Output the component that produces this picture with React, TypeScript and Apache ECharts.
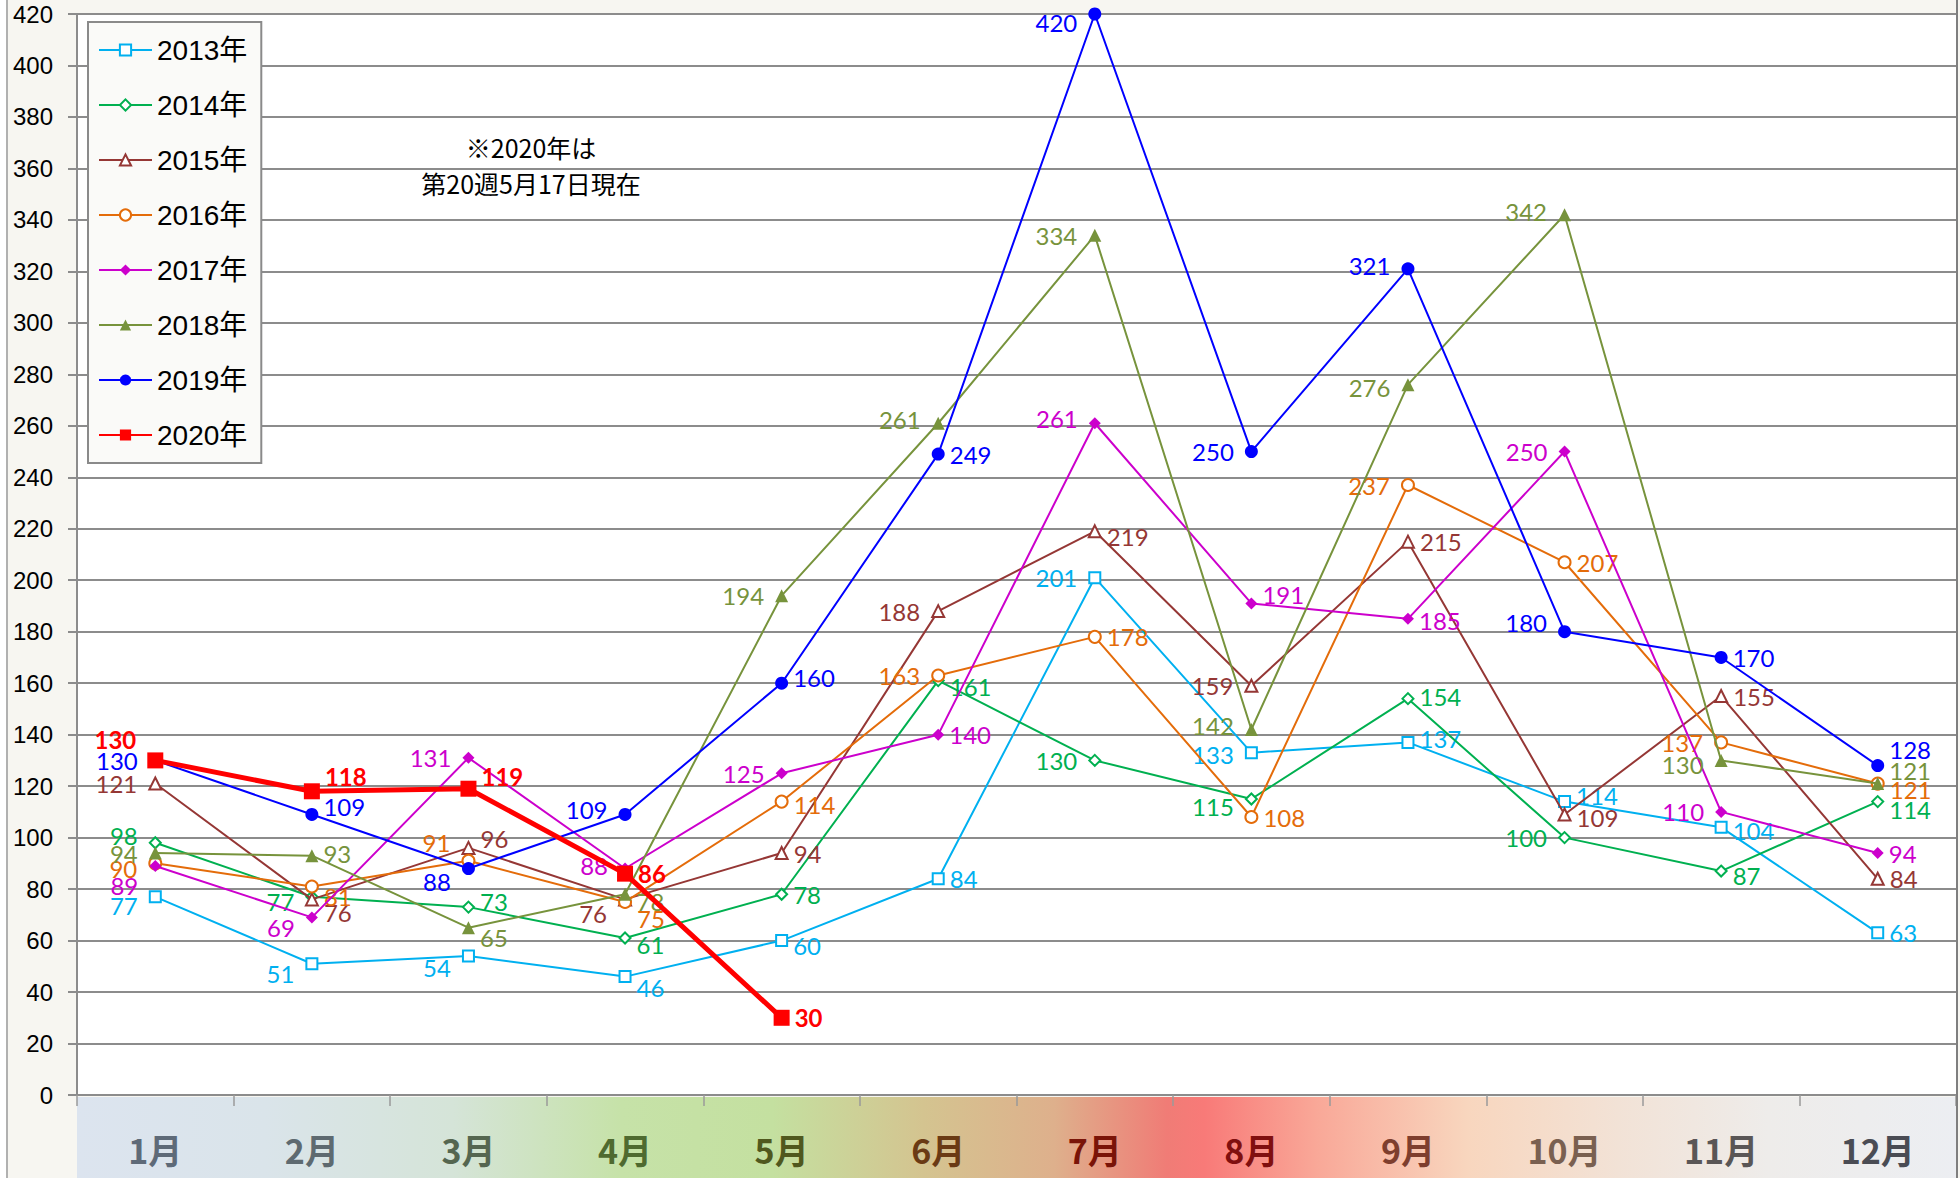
import React, { useEffect, useRef } from "react";
import * as echarts from "echarts";

const months = ["1月", "2月", "3月", "4月", "5月", "6月", "7月", "8月", "9月", "10月", "11月", "12月"];
const yearNames = ["2013年", "2014年", "2015年", "2016年", "2017年", "2018年", "2019年", "2020年"];

const v2013 = [77, 51, 54, 46, 60, 84, 201, 133, 137, 114, 104, 63];
const v2014 = [98, 77, 73, 61, 78, 161, 130, 115, 154, 100, 87, 114];
const v2015 = [121, 76, 96, 76, 94, 188, 219, 159, 215, 109, 155, 84];
const v2016 = [90, 81, 91, 75, 114, 163, 178, 108, 237, 207, 137, 121];
const v2017 = [89, 69, 131, 88, 125, 140, 261, 191, 185, 250, 110, 94];
const v2018 = [94, 93, 65, 78, 194, 261, 334, 142, 276, 342, 130, 121];
const v2019 = [130, 109, 88, 109, 160, 249, 420, 250, 321, 180, 170, 128];
const v2020 = [130, 118, 119, 86, 30];

const yMin = 0;
const yMax = 420;
const yStep = 20;

const noteText = "※2020年は\n第20週5月17日現在";

// --- styling / layout (not data) ---
const seriesValues = [v2013, v2014, v2015, v2016, v2017, v2018, v2019, v2020];
const seriesColors = ["#00B0F0", "#00B050", "#953735", "#E46C0A", "#CC00CC", "#77933C", "#0000FF", "#FF0000"];
const seriesSymbols = ["emptyRect", "emptyDiamond", "emptyTriangle", "emptyCircle", "diamond", "triangle", "circle", "rect"];
const seriesSymbolSizes = [11, 11, 12, 12, 12, 13, 13, 16];
const seriesLineWidths = [2, 2, 2, 2, 2, 2, 2, 5];

const labelSide = [
  "LLLRRRLLRRRR",
  "LLRRRRLLRLRR",
  "LRRLRLRLRRRR",
  "LRLRRLRRLRLR",
  "LLLLLRLRRLLR",
  "LRRRLLLLLLLR",
  "LRLLRRLLLLRR",
  "LRRRR",
];
const labelDy = [
  [9, 10, 11, 11, 5, 0, 0, 2, -4, -6, 3, 0],
  [-7, 5, -6, 7, 0, 6, 0, 7, -2, 0, 4, 8],
  [0, 13, -9, 14, 0, 0, 5, 0, 0, 3, 0, 0],
  [5, 10, -18, 17, 3, 0, 0, 0, 0, 0, 0, 6],
  [20, 10, 0, -3, 0, 0, -5, -9, 2, 0, 0, 0],
  [0, -2, 10, 7, 0, -4, 0, -4, 3, -3, 4, -13],
  [0, -8, 13, -5, -6, 0, 8, 0, -3, -9, 0, -16],
  [-21, -15, -12, 0, 0],
];

const monthLabelColors = [
  "#5E6A78", "#5E6A70", "#556650", "#4F6A30", "#50581E", "#6A3A14",
  "#7A1408", "#800F0F", "#7E3E2E", "#7A6050", "#5A5656", "#4A4C54",
];

const W = 1960;
const H = 1178;
const gridLeft = 77;
const gridRight = 4;
const gridTop = 14;
const gridBottom = 83;

export default function App() {
  const ref = useRef<HTMLDivElement>(null);

  useEffect(() => {
    if (!ref.current) return;
    const chart = echarts.init(ref.current, undefined, { renderer: "svg" });

    const rich: Record<string, any> = {};
    monthLabelColors.forEach((c, i) => {
      rich["m" + i] = {
        color: c,
        fontSize: 34,
        fontWeight: "bold",
        fontFamily: "Noto Sans CJK JP",
        lineHeight: 40,
      };
    });

    const series = seriesValues.map((vals, si) => ({
      name: yearNames[si],
      type: "line",
      data: vals.map((v, i) => {
        const side = labelSide[si][i] === "L" ? "left" : "right";
        return {
          value: v,
          label: {
            position: side,
            distance: side === "left" ? 11 : 5,
            offset: [0, labelDy[si][i] || 0],
          },
        };
      }),
      symbol: seriesSymbols[si],
      symbolSize: seriesSymbolSizes[si],
      showAllSymbol: true,
      color: seriesColors[si],
      lineStyle: { color: seriesColors[si], width: seriesLineWidths[si] },
      itemStyle: { color: seriesColors[si], borderWidth: si < 4 ? 1.6 : 0 },
      label: {
        show: true,
        color: seriesColors[si],
        fontFamily: "Lato",
        fontSize: 24,
        fontWeight: si === 7 ? "bold" : "normal",
      },
      emphasis: { disabled: true },
      z: 2 + si,
    }));

    const bandGradient = new echarts.graphic.LinearGradient(0, 0, 1, 0, [
      { offset: 0, color: "#DCE4EF" },
      { offset: 0.1, color: "#DAE4EA" },
      { offset: 0.2, color: "#D5E4D8" },
      { offset: 0.29, color: "#C6E2A8" },
      { offset: 0.37, color: "#C4E0A0" },
      { offset: 0.45, color: "#D4C490" },
      { offset: 0.52, color: "#DEB08C" },
      { offset: 0.58, color: "#F07C76" },
      { offset: 0.6, color: "#F87A78" },
      { offset: 0.66, color: "#F9A898" },
      { offset: 0.74, color: "#F8D6BE" },
      { offset: 0.82, color: "#F2E2D6" },
      { offset: 0.9, color: "#EEECEA" },
      { offset: 1, color: "#ECEEF2" },
    ]);

    chart.setOption({
      animation: false,
      backgroundColor: "#F7F6F1",
      grid: {
        left: gridLeft,
        right: gridRight,
        top: gridTop,
        bottom: gridBottom,
        show: true,
        backgroundColor: "#FFFFFF",
        borderWidth: 0,
      },
      legend: {
        orient: "vertical",
        left: 88,
        top: 22,
        padding: [11, 14, 11, 10],
        itemWidth: 53,
        itemHeight: 14,
        itemGap: 21,
        backgroundColor: "#FAFAF8",
        borderColor: "#8A8A8A",
        borderWidth: 2,
        textStyle: {
          fontSize: 28,
          fontFamily: "Liberation Sans, Noto Sans CJK JP",
          color: "#000",
          lineHeight: 34,
        },
        data: yearNames,
      },
      xAxis: {
        type: "category",
        data: months,
        boundaryGap: true,
        axisLine: { show: true, lineStyle: { color: "#8C8C8C", width: 2 } },
        axisTick: {
          show: true,
          interval: 0,
          length: 11,
          alignWithLabel: false,
          lineStyle: { color: "#9A9A9A", width: 1.5 },
        },
        axisLabel: {
          interval: 0,
          margin: 34,
          formatter: (value: string, idx: number) => `{m${idx}|${value}}`,
          rich,
        },
        splitLine: { show: false },
        z: 5,
      },
      yAxis: {
        type: "value",
        min: yMin,
        max: yMax,
        interval: yStep,
        axisLine: { show: true, lineStyle: { color: "#8C8C8C", width: 2 } },
        axisTick: { show: true, length: 9, lineStyle: { color: "#8C8C8C", width: 2 } },
        axisLabel: {
          margin: 24,
          fontSize: 24,
          fontFamily: "Liberation Sans",
          color: "#000",
        },
        splitLine: { show: true, lineStyle: { color: "#8C8C8C", width: 2 } },
      },
      graphic: [
        {
          type: "rect",
          z: -10,
          shape: { x: 0, y: 0, width: 6, height: H },
          style: { fill: "#FFFFFF" },
          silent: true,
        },
        {
          type: "line",
          z: 10,
          shape: { x1: 7, y1: 0, x2: 7, y2: H },
          style: { stroke: "#9A9A9A", lineWidth: 1.5 },
          silent: true,
        },
        {
          type: "line",
          z: 10,
          shape: { x1: W - 3, y1: 0, x2: W - 3, y2: H },
          style: { stroke: "#7F7F7F", lineWidth: 2 },
          silent: true,
        },
        {
          type: "rect",
          z: -5,
          shape: { x: gridLeft, y: H - gridBottom + 2, width: W - gridLeft - gridRight, height: gridBottom - 2 },
          style: { fill: bandGradient },
          silent: true,
        },
        {
          type: "text",
          z: 20,
          x: 531,
          y: 129,
          style: {
            text: noteText,
            align: "center",
            verticalAlign: "top",
            fontSize: 25,
            lineHeight: 36,
            fontFamily: "Noto Sans CJK JP",
            fill: "#000",
          },
          silent: true,
        },
      ],
      series,
    });

    return () => {
      chart.dispose();
    };
  }, []);

  return (
    <div
      ref={ref}
      style={{ position: "fixed", left: 0, top: 0, width: W, height: H }}
    />
  );
}
